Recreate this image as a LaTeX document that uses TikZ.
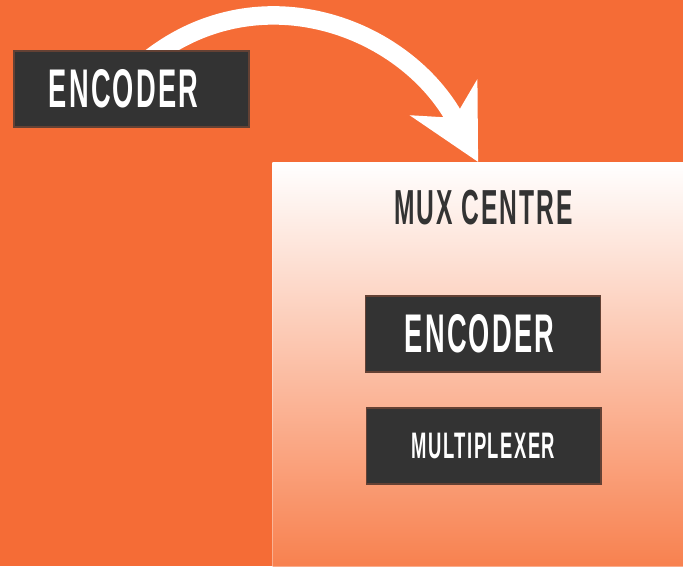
\documentclass[tikz,border=0pt]{standalone}
\usepackage{fontspec}
\newfontfamily\slimfont[FakeStretch=0.5, LetterSpace=4]{Liberation Sans}
\usetikzlibrary{arrows.meta}
\definecolor{bgorange}{HTML}{F56C36}
\definecolor{boxdark}{HTML}{333333}
\definecolor{fadeorange}{HTML}{F8814F}
\tikzset{
  darkbox/.style={fill=boxdark, draw=boxdark!75!bgorange, line width=0.6pt,
    text=white, minimum width=4.7cm, minimum height=1.52cm, inner sep=0pt},
  bigtext/.style={font=\slimfont\bfseries\fontsize{31}{31}\selectfont},
  smalltext/.style={font=\slimfont\bfseries\fontsize{21}{21}\selectfont},
  centrebox/.style={top color=white, bottom color=fadeorange, draw=white,
    draw opacity=0.35, line width=0.8pt, minimum width=8.22cm,
    minimum height=8.08cm, inner sep=0pt, anchor=north west},
  flowarrow/.style={white, line width=0.37cm,
    -{Stealth[length=1.45cm, width=1.5cm, inset=0.45cm]}}
}
\begin{document}
\begin{tikzpicture}[x=0.02cm, y=-0.02cm]
  \useasboundingbox[fill=bgorange] (0,0) rectangle (683,566);
  \node[centrebox] (mux) at (272,162) {};
  \node[font=\slimfont\bfseries\fontsize{28}{28}\selectfont, text=boxdark]
    (muxtitle) at (483.5,208) {MUX CENTRE};
  \node[darkbox, bigtext] (encin) at (483,334) {ENCODER\kern4pt};
  \node[darkbox, smalltext] (muxer) at (483.5,446) {MULTIPLEXER};
  % arrow starts under the outer encoder
  \coordinate (arrowstart) at (143,64);
  \draw[flowarrow] (arrowstart) .. controls (255,-30) and (405,25) .. (mux.north);
  \node[darkbox, bigtext] (encout) at (131.5,89) {ENCODER\kern9pt};
\end{tikzpicture}
\end{document}
